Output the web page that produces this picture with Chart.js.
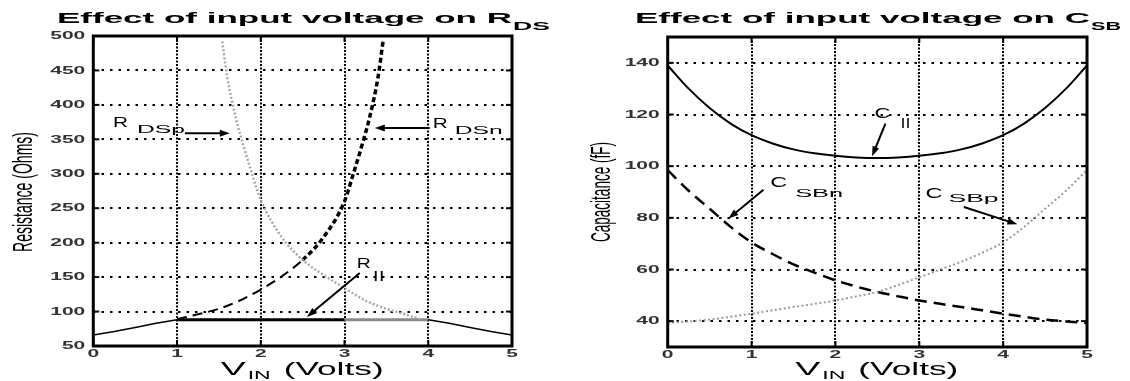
<!DOCTYPE html>
<html>
<head>
<meta charset="utf-8">
<script src="https://cdn.jsdelivr.net/npm/chart.js@4/dist/chart.umd.min.js"></script>
<style>
  html, body { margin: 0; padding: 0; background: #fff; }
  #wrap { position: relative; width: 1130px; height: 381px; overflow: hidden; }
  .panel { position: absolute; top: 0; width: 565px; height: 381px; }
</style>
</head>
<body>
<div id="wrap">
  <div class="panel" style="left:0"><canvas id="rds" width="565" height="381"></canvas></div>
  <div class="panel" style="left:565px"><canvas id="csb" width="565" height="381"></canvas></div>
</div>
<script>
// ---- shared axis ----
const voltTicks = [0, 1, 2, 3, 4, 5];

// ---- drain-source resistance (Ohms) vs input voltage ----
const resTicks = [50, 100, 150, 200, 250, 300, 350, 400, 450, 500];
const rdsnVin  = [1, 1.25, 1.5, 1.75, 2, 2.25, 2.5, 2.75, 3, 3.1, 3.2, 3.3, 3.4, 3.46];
const rdsnOhms = [89, 96, 104, 116, 132, 151, 175, 208, 260, 298, 338, 382, 440, 492];
const rdspVin  = [1.54, 1.6, 1.7, 1.8, 1.9, 2, 2.25, 2.5, 2.75, 3, 3.25, 3.5, 3.75, 3.9];
const rdspOhms = [492, 440, 382, 338, 298, 262, 208, 175, 153, 134, 116, 104, 95, 89];
const rparVin  = [0, 0.25, 0.5, 0.75, 1, 2, 3, 4, 4.25, 4.5, 4.75, 5];
const rparOhms = [66, 71, 77, 83, 88, 88, 88, 88, 83, 77, 71, 66];

// ---- source-body capacitance (fF) vs input voltage ----
const capTicks = [40, 60, 80, 100, 120, 140];
const capVin   = [0, 0.25, 0.5, 0.75, 1, 1.25, 1.5, 1.75, 2, 2.25, 2.5, 2.75, 3, 3.25, 3.5, 3.75, 4, 4.25, 4.5, 4.75, 5];
const cParFF   = [139, 130, 122.5, 116.5, 112, 108.8, 106.5, 105, 104, 103.4, 103.2, 103.4, 104, 105, 106.5, 108.8, 112, 116.5, 122.5, 130, 139];
const cSbnFF   = [98.5, 90.5, 83.5, 76.5, 70.5, 66, 62, 58.8, 55.8, 53.4, 51.3, 49.6, 48, 46.7, 45.5, 44.2, 42.9, 41.7, 40.6, 39.9, 39.3];
const cSbpFF   = [39.3, 39.9, 40.6, 41.7, 42.9, 44.2, 45.5, 46.7, 48, 49.6, 51.3, 54, 57, 60, 63, 66.5, 70.5, 76.5, 83.5, 90.5, 98.5];

const FAMILY = '"Liberation Sans", Arial, Helvetica, sans-serif';

function pts(xs, ys) { return xs.map((x, i) => ({ x: x, y: ys[i] })); }

// text drawn with a horizontal stretch (fixed factor or fitted to a width)
function drawText(ctx, str, x, y, o) {
  ctx.save();
  ctx.font = o.font;
  const m = ctx.measureText(str).width;
  const sx = o.width ? o.width / m : (o.sx || 1);
  const w = m * sx;
  const dx = o.align === 'right' ? -w : (o.align === 'center' ? -w / 2 : 0);
  ctx.translate(x + dx, y);
  ctx.scale(sx, 1);
  ctx.fillStyle = o.color || '#000';
  ctx.textAlign = 'left';
  ctx.textBaseline = o.baseline || 'alphabetic';
  ctx.fillText(str, 0, 0);
  ctx.restore();
}

// rotated axis title: fitted to a length along the text, widened across it
function drawVertical(ctx, str, x, y, font, length, across) {
  ctx.save();
  ctx.font = font;
  const m = ctx.measureText(str).width;
  ctx.translate(x, y);
  ctx.rotate(-Math.PI / 2);
  ctx.scale(length / m, across);
  ctx.textAlign = 'center';
  ctx.textBaseline = 'alphabetic';
  ctx.fillStyle = '#000';
  ctx.fillText(str, 0, 0);
  ctx.restore();
}

function drawArrow(ctx, x0, y0, x1, y1) {
  const ang = Math.atan2(y1 - y0, x1 - x0);
  const c = Math.cos(ang), s = Math.sin(ang);
  const L = 10, W = 3.5;
  ctx.save();
  ctx.setLineDash([]);
  ctx.strokeStyle = '#000';
  ctx.fillStyle = '#000';
  ctx.lineWidth = 2;
  ctx.beginPath();
  ctx.moveTo(x0, y0);
  ctx.lineTo(x1 - L * 0.7 * c, y1 - L * 0.7 * s);
  ctx.stroke();
  ctx.beginPath();
  ctx.moveTo(x1, y1);
  ctx.lineTo(x1 - L * c + W * s, y1 - L * s - W * c);
  ctx.lineTo(x1 - L * c - W * s, y1 - L * s + W * c);
  ctx.closePath();
  ctx.fill();
  ctx.restore();
}

// frame, inside tick marks, tick labels, titles and callouts
function decorations(cfg) {
  return {
    id: 'decor',
    afterDraw(chart) {
      const ctx = chart.ctx, a = chart.chartArea;
      const xs = chart.scales.x, ys = chart.scales.y;
      ctx.save();
      ctx.setLineDash([]);
      ctx.strokeStyle = '#000';
      ctx.lineWidth = 2;
      const seg = (x0, y0, x1, y1) => { ctx.beginPath(); ctx.moveTo(x0, y0); ctx.lineTo(x1, y1); ctx.stroke(); };
      cfg.xTicks.forEach(v => {
        const p = xs.getPixelForValue(v);
        seg(p, a.bottom, p, a.bottom - 6);
        seg(p, a.top, p, a.top + 6);
      });
      cfg.yTicks.forEach(v => {
        const p = ys.getPixelForValue(v);
        seg(a.left, p, a.left + 6, p);
        seg(a.right, p, a.right - 6, p);
      });
      ctx.lineWidth = 3;
      ctx.strokeRect(a.left, a.top, a.right - a.left, a.bottom - a.top);

      // tick labels
      const tickFont = 'bold 10px ' + FAMILY;
      cfg.yTicks.forEach(v => {
        drawText(ctx, String(v), a.left - 8, ys.getPixelForValue(v) + 0.5,
          { font: tickFont, sx: 2.1, align: 'right', baseline: 'middle', color: '#333' });
      });
      cfg.xTicks.forEach(v => {
        drawText(ctx, String(v), xs.getPixelForValue(v), a.bottom + 8,
          { font: tickFont, sx: 2.1, align: 'center', baseline: 'middle', color: '#333' });
      });

      // x axis title: V_IN (Volts)
      const cx = (a.left + a.right) / 2;
      drawText(ctx, 'V', cx - 82, 375, { font: '18px ' + FAMILY, width: 25 });
      drawText(ctx, 'IN', cx - 55, 379, { font: '11px ' + FAMILY, width: 23 });
      drawText(ctx, '(Volts)', cx - 19, 375, { font: '18px ' + FAMILY, width: 100 });

      // y axis title
      drawVertical(ctx, cfg.yTitle.text, cfg.yTitle.x, 192, '14px ' + FAMILY, cfg.yTitle.len, 2);

      // chart title with subscript
      drawText(ctx, cfg.title[0], cfg.titleX, 23, { font: 'bold 15px ' + FAMILY, width: 455 });
      drawText(ctx, cfg.title[1], cfg.titleX + 456, 30, { font: 'bold 10px ' + FAMILY, width: cfg.titleSubW });

      // callouts
      cfg.notes.forEach(n => {
        const px = xs.getPixelForValue(n.at[0]), py = ys.getPixelForValue(n.at[1]);
        drawText(ctx, n.main, px, py, { font: '15px ' + FAMILY, width: n.w });
        drawText(ctx, n.sub, px + n.subOff[0], py + n.subOff[1], { font: '10px ' + FAMILY, width: n.sw });
        drawArrow(ctx,
          xs.getPixelForValue(n.from[0]), ys.getPixelForValue(n.from[1]),
          xs.getPixelForValue(n.to[0]), ys.getPixelForValue(n.to[1]));
      });
      ctx.restore();
    }
  };
}

function baseOptions(yMin, yMax, yTickVals, pad, yWidth, xHeight) {
  return {
    responsive: false,
    animation: false,
    devicePixelRatio: 1,
    layout: { padding: pad },
    plugins: { legend: { display: false }, tooltip: { enabled: false }, title: { display: false } },
    elements: { point: { radius: 0 }, line: { tension: 0 } },
    scales: {
      x: {
        type: 'linear', min: 0, max: 5,
        afterBuildTicks: s => { s.ticks = voltTicks.map(v => ({ value: v })); },
        afterFit: s => { s.height = xHeight; },
        ticks: { display: false },
        grid: { color: '#000', lineWidth: 2, drawTicks: false },
        border: { display: false, dash: [2, 1.5] }
      },
      y: {
        type: 'linear', min: yMin, max: yMax,
        afterBuildTicks: s => { s.ticks = yTickVals.map(v => ({ value: v })); },
        afterFit: s => { s.width = yWidth; },
        ticks: { display: false },
        grid: { color: '#000', lineWidth: 2, drawTicks: false },
        border: { display: false, dash: [2.5, 6] }
      }
    }
  };
}

// ---- left panel: R_DS ----
new Chart(document.getElementById('rds'), {
  type: 'line',
  data: {
    datasets: [
      {
        label: 'RDSp', data: pts(rdspVin, rdspOhms),
        borderColor: '#a8a8a8', borderWidth: 2.5, borderDash: [2, 2],
        cubicInterpolationMode: 'monotone', fill: false
      },
      {
        label: 'RDSn', data: pts(rdsnVin, rdsnOhms),
        borderColor: '#000', borderWidth: 2,
        cubicInterpolationMode: 'monotone', fill: false,
        segment: {
          borderDash: c => c.p0.parsed.x < 2.45 ? [10, 6] : [5, 3],
          borderWidth: c => c.p0.parsed.x < 2.45 ? 2 : 3.5
        }
      },
      {
        label: 'R||', data: pts(rparVin, rparOhms),
        borderColor: '#000', borderWidth: 1.5, fill: false,
        segment: {
          borderColor: c => (c.p0.parsed.x >= 3 && c.p1.parsed.x <= 4) ? '#8a8a8a' : '#000',
          borderWidth: c => (c.p0.parsed.x >= 1 && c.p1.parsed.x <= 4) ? 3 : 1.5
        }
      }
    ]
  },
  options: baseOptions(50, 500, resTicks, { left: 0, right: 53, top: 36, bottom: 0 }, 93.3, 35),
  plugins: [decorations({
    xTicks: voltTicks, yTicks: resTicks,
    title: ['Effect of input voltage on R', 'DS'], titleX: 57, titleSubW: 37,
    yTitle: { text: 'Resistance (Ohms)', x: 32, len: 120 },
    notes: [
      { main: 'R', sub: 'DSp', at: [0.235, 368], subOff: [24, 6], w: 15, sw: 48, from: [1.094, 359], to: [1.63, 359] },
      { main: 'R', sub: 'DSn', at: [4.054, 366.4], subOff: [22, 6], w: 15, sw: 48, from: [4.018, 366.4], to: [3.362, 366.4] },
      { main: 'R', sub: '||', at: [3.147, 163.2], subOff: [16, 11], w: 14, sw: 12, from: [3.182, 155.9], to: [2.55, 92.1] }
    ]
  })]
});

// ---- right panel: C_SB ----
new Chart(document.getElementById('csb'), {
  type: 'line',
  data: {
    datasets: [
      {
        label: 'CSBp', data: pts(capVin, cSbpFF),
        borderColor: '#9a9a9a', borderWidth: 2, borderDash: [2, 2.5],
        cubicInterpolationMode: 'monotone', fill: false
      },
      {
        label: 'CSBn', data: pts(capVin, cSbnFF),
        borderColor: '#000', borderWidth: 2.5, borderDash: [12, 7],
        cubicInterpolationMode: 'monotone', fill: false
      },
      {
        label: 'C||', data: pts(capVin, cParFF),
        borderColor: '#000', borderWidth: 2,
        cubicInterpolationMode: 'monotone', fill: false
      }
    ]
  },
  options: baseOptions(30, 150, capTicks, { left: 0, right: 43, top: 37, bottom: 0 }, 102.7, 34),
  plugins: [decorations({
    xTicks: voltTicks, yTicks: capTicks,
    title: ['Effect of input voltage on C', 'SB'], titleX: 70, titleSubW: 30,
    yTitle: { text: 'Capacitance (fF)', x: 45, len: 100 },
    notes: [
      { main: 'C', sub: '||', at: [2.465, 118.6], subOff: [26, 8], w: 16, sw: 10, from: [2.596, 116.5], to: [2.437, 103.8] },
      { main: 'C', sub: 'SBn', at: [1.222, 91.8], subOff: [25, 10], w: 17, sw: 48, from: [1.142, 90.9], to: [0.724, 79.7] },
      { main: 'C', sub: 'SBp', at: [3.074, 87.6], subOff: [23, 4], w: 17, sw: 50, from: [3.532, 84.2], to: [4.170, 77.5] }
    ]
  })]
});
</script>
</body>
</html>
